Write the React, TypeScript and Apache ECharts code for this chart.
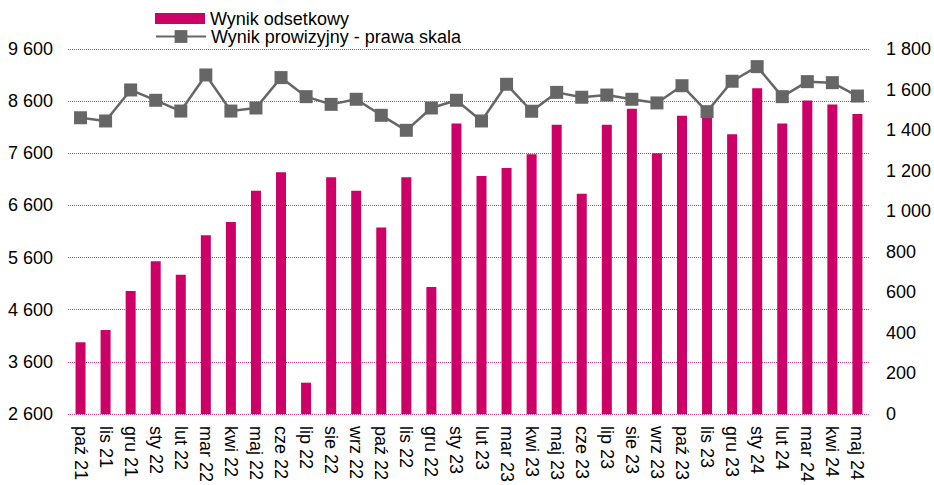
import React, { useEffect, useRef } from "react";
import * as echarts from "echarts";

const categories = [
  "paź 21", "lis 21", "gru 21", "sty 22", "lut 22", "mar 22", "kwi 22", "maj 22",
  "cze 22", "lip 22", "sie 22", "wrz 22", "paź 22", "lis 22", "gru 22", "sty 23",
  "lut 23", "mar 23", "kwi 23", "maj 23", "cze 23", "lip 23", "sie 23", "wrz 23",
  "paź 23", "lis 23", "gru 23", "sty 24", "lut 24", "mar 24", "kwi 24", "maj 24",
];

const wynikOdsetkowy = [
  3975, 4210, 4960, 5530, 5270, 6030, 6280, 6880,
  7235, 3200, 7140, 6880, 6175, 7140, 5035, 8170,
  7165, 7320, 7580, 8145, 6825, 8145, 8455, 7600,
  8320, 8290, 7965, 8845, 8170, 8610, 8535, 8355,
];

const wynikProwizyjny = [
  1461, 1445, 1598, 1547, 1494, 1672, 1494, 1509,
  1659, 1565, 1527, 1552, 1473, 1399, 1509, 1547,
  1445, 1626, 1493, 1586, 1562, 1573, 1552, 1534,
  1619, 1491, 1641, 1713, 1565, 1639, 1634, 1568,
];

const seriesNames = ["Wynik odsetkowy", "Wynik prowizyjny - prawa skala"];

const fmt = (v: number) => String(v).replace(/\B(?=(\d{3})+(?!\d))/g, " ");

const FONT = "'Liberation Sans', Arial, sans-serif";

export default function App() {
  const ref = useRef<HTMLDivElement>(null);
  useEffect(() => {
    if (!ref.current) return;
    const chart = echarts.init(ref.current, undefined, { renderer: "svg" });
    const legendText = { fontSize: 18, color: "#000", fontFamily: FONT, lineHeight: 19 };
    chart.setOption({
      animation: false,
      backgroundColor: "#ffffff",
      textStyle: { fontFamily: FONT },
      legend: [
        {
          orient: "vertical",
          left: 150,
          top: 4,
          itemWidth: 50,
          itemHeight: 11,
          textStyle: legendText,
          data: [{ name: seriesNames[0], icon: "rect", itemStyle: { color: "#cc0066" } }],
        },
        {
          orient: "vertical",
          left: 150,
          top: 22,
          itemWidth: 50,
          itemHeight: 16,
          textStyle: legendText,
          data: [{ name: seriesNames[1] }],
        },
      ],
      grid: { left: 68, right: 62, top: 49, bottom: 71, containLabel: false },
      xAxis: {
        type: "category",
        data: categories,
        axisTick: { show: false },
        axisLine: { show: false },
        axisLabel: {
          rotate: -90,
          fontSize: 18,
          color: "#000",
          margin: 12,
          interval: 0,
          fontFamily: FONT,
        },
      },
      yAxis: [
        {
          type: "value",
          min: 2600,
          max: 9600,
          interval: 1000,
          axisLine: { show: false },
          axisTick: { show: false },
          axisLabel: { fontSize: 18, color: "#000", margin: 15, formatter: fmt, fontFamily: FONT },
          splitLine: { show: true, lineStyle: { color: "#e0388c", type: [1, 1], width: 1 } },
        },
        {
          type: "value",
          min: 0,
          max: 1800,
          interval: 200,
          position: "right",
          axisLine: { show: false },
          axisTick: { show: false },
          axisLabel: { fontSize: 18, color: "#000", margin: 16, formatter: fmt, fontFamily: FONT },
          splitLine: { show: false },
        },
      ],
      series: [
        {
          name: seriesNames[0],
          type: "bar",
          yAxisIndex: 0,
          data: wynikOdsetkowy,
          barWidth: 10,
          itemStyle: { color: "#cc0066" },
        },
        {
          name: seriesNames[1],
          type: "line",
          yAxisIndex: 1,
          data: wynikProwizyjny,
          symbol: "rect",
          symbolSize: 13,
          lineStyle: { color: "#666666", width: 2.5 },
          itemStyle: { color: "#666666" },
          z: 3,
        },
      ],
    });
    return () => chart.dispose();
  }, []);
  return (
    <div
      ref={ref}
      style={{ position: "fixed", left: 0, top: 0, width: 934, height: 485, background: "#fff" }}
    />
  );
}
